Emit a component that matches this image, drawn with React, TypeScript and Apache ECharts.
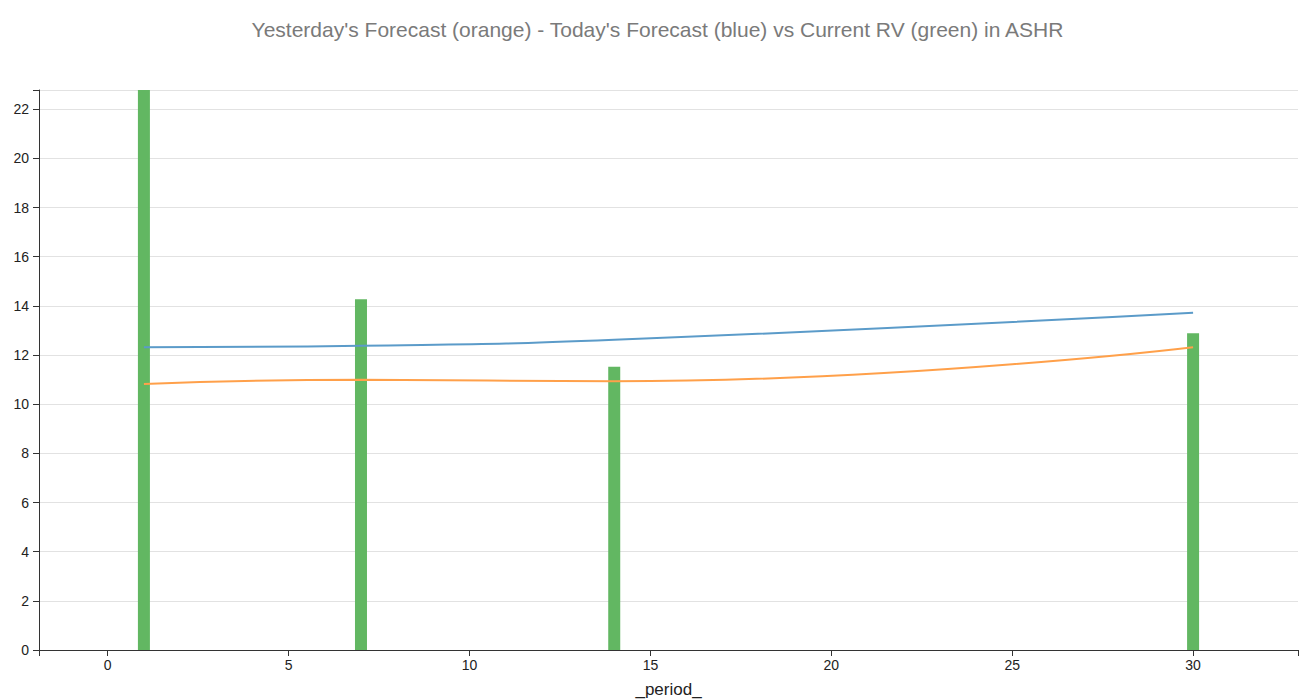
import React, { useEffect, useRef } from "react";
import * as echarts from "echarts";

const periods = [1, 7, 14, 30];
const currentRV = [22.78, 14.27, 11.52, 12.88];
const todayForecast = [12.32, 12.38, 12.62, 13.72];
const yesterdayForecast = [10.82, 10.99, 10.93, 12.32];
const xTickLabels = [0, 5, 10, 15, 20, 25, 30];
const yTickLabels = [0, 2, 4, 6, 8, 10, 12, 14, 16, 18, 20, 22];

const X_MIN = -1.9;
const X_MAX = 32.9;
const Y_MAX = 22.78;

export default function App() {
  const ref = useRef<HTMLDivElement>(null);
  useEffect(() => {
    const chart = echarts.init(ref.current!, null, { renderer: "svg" });
    const font = "Helvetica Neue, Liberation Sans, Arial, sans-serif";
    chart.setOption({
      animation: false,
      textStyle: { fontFamily: font },
      title: {
        text: "Yesterday's Forecast (orange) - Today's Forecast (blue) vs Current RV (green) in ASHR",
        left: "center",
        top: 14,
        textStyle: { fontSize: 21, fontWeight: "normal", color: "#7a7a7a", fontFamily: font },
      },
      grid: { left: 39, right: 17, top: 90, bottom: 50, containLabel: false, outerBoundsMode: "none" },
      xAxis: {
        type: "value",
        min: X_MIN,
        max: X_MAX,
        name: "_period_",
        nameLocation: "middle",
        nameGap: 31,
        nameTextStyle: { fontSize: 17, color: "#222" },
        axisLine: { show: true, onZero: false, lineStyle: { color: "#333", width: 1 } },
        axisTick: { show: true, length: 6, customValues: [X_MIN, ...xTickLabels, X_MAX], lineStyle: { color: "#333" } },
        axisLabel: { customValues: xTickLabels, fontSize: 14, color: "#222", margin: 8 },
        splitLine: { show: false },
      },
      yAxis: {
        type: "value",
        min: 0,
        max: Y_MAX,
        axisLine: { show: true, onZero: false, lineStyle: { color: "#333", width: 1 } },
        axisTick: { show: true, length: 6, customValues: [...yTickLabels, Y_MAX], lineStyle: { color: "#333" } },
        axisLabel: { customValues: yTickLabels, fontSize: 14, color: "#222", margin: 10 },
        splitLine: { show: true, lineStyle: { color: "#e2e2e2", width: 1 } },
      },
      series: [
        {
          type: "bar",
          name: "Current RV",
          data: periods.map((p, i) => [p, currentRV[i]]),
          barWidth: 12,
          itemStyle: { color: "#62b762" },
          z: 1,
        },
        {
          type: "line",
          name: "Today's Forecast",
          data: periods.map((p, i) => [p, todayForecast[i]]),
          smooth: 0.5,
          showSymbol: false,
          lineStyle: { color: "#5b9bc9", width: 2 },
          z: 3,
        },
        {
          type: "line",
          name: "Yesterday's Forecast",
          data: periods.map((p, i) => [p, yesterdayForecast[i]]),
          smooth: 0.5,
          showSymbol: false,
          lineStyle: { color: "#ffa04a", width: 2 },
          z: 3,
        },
      ],
    });
    return () => chart.dispose();
  }, []);
  return <div ref={ref} style={{ width: 1315, height: 700, position: "absolute", left: 0, top: 0 }} />;
}
